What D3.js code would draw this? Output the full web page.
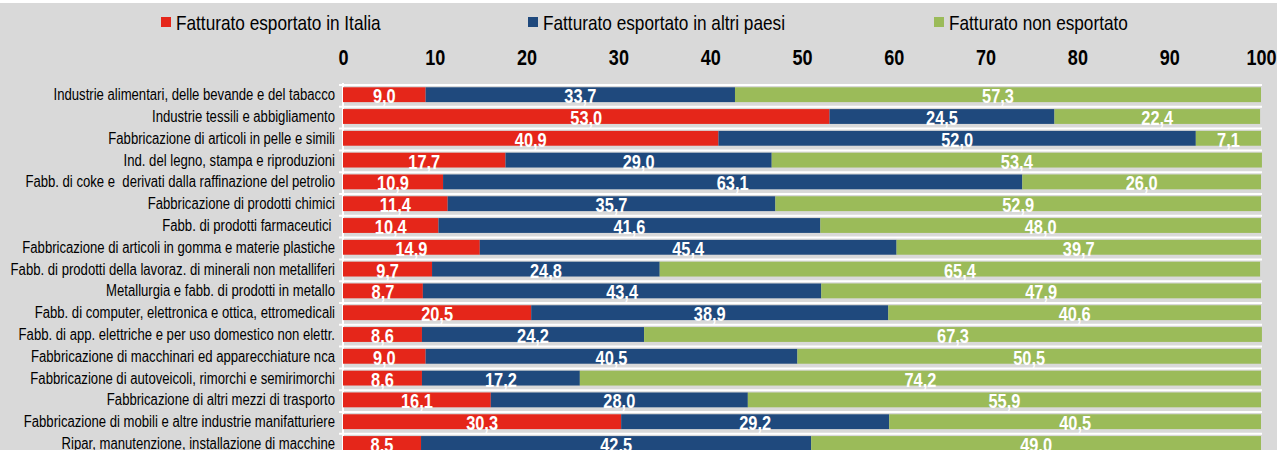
<!DOCTYPE html>
<html>
<head>
<meta charset="utf-8">
<script src="https://cdn.jsdelivr.net/npm/d3@7"></script>
<style>
  html, body { margin: 0; padding: 0; background: #ffffff; overflow: hidden; }
  text { font-family: "Liberation Sans", Arial, sans-serif; white-space: pre; }
</style>
</head>
<body>
<script>
// Chart data
var categories = [
  "Industrie alimentari, delle bevande e del tabacco",
  "Industrie tessili e abbigliamento",
  "Fabbricazione di articoli in pelle e simili",
  "Ind. del legno, stampa e riproduzioni",
  "Fabb. di coke e  derivati dalla raffinazione del petrolio",
  "Fabbricazione di prodotti chimici",
  "Fabb. di prodotti farmaceutici ",
  "Fabbricazione di articoli in gomma e materie plastiche",
  "Fabb. di prodotti della lavoraz. di minerali non metalliferi",
  "Metallurgia e fabb. di prodotti in metallo",
  "Fabb. di computer, elettronica e ottica, ettromedicali",
  "Fabb. di app. elettriche e per uso domestico non elettr.",
  "Fabbricazione di macchinari ed apparecchiature nca",
  "Fabbricazione di autoveicoli, rimorchi e semirimorchi",
  "Fabbricazione di altri mezzi di trasporto",
  "Fabbricazione di mobili e altre industrie manifatturiere",
  "Ripar, manutenzione, installazione di macchine"
];
var italia       = [9.0, 53.0, 40.9, 17.7, 10.9, 11.4, 10.4, 14.9, 9.7, 8.7, 20.5, 8.6, 9.0, 8.6, 16.1, 30.3, 8.5];
var altriPaesi   = [33.7, 24.5, 52.0, 29.0, 63.1, 35.7, 41.6, 45.4, 24.8, 43.4, 38.9, 24.2, 40.5, 17.2, 28.0, 29.2, 42.5];
var nonEsportato = [57.3, 22.4, 7.1, 53.4, 26.0, 52.9, 48.0, 39.7, 65.4, 47.9, 40.6, 67.3, 50.5, 74.2, 55.9, 40.5, 49.0];
var seriesNames  = ["Fatturato esportato in Italia", "Fatturato esportato in altri paesi", "Fatturato non esportato"];
var seriesKeys   = ["italia", "altri", "non"];
var tickValues   = [0, 10, 20, 30, 40, 50, 60, 70, 80, 90, 100];

// Define SVG area dimensions
var svgWidth = 1277;
var svgHeight = 450;

// no narrow font installed: squeeze Liberation Sans horizontally
var squeeze = 0.82;
function narrow(sel) {
  sel.each(function () {
    var t = d3.select(this);
    var x = +t.attr("x") || 0;
    var y = +t.attr("y") || 0;
    t.attr("x", 0).attr("y", 0)
      .attr("transform", `translate(${x}, ${y}) scale(${squeeze}, 1)`);
  });
}

var colors = d3.scaleOrdinal()
  .domain(seriesKeys)
  .range(["#e5261a", "#1f497d", "#9bbb59"]);

// rows as objects for d3.stack
var rows = categories.map(function (c, i) {
  return { cat: c, italia: italia[i], altri: altriPaesi[i], non: nonEsportato[i] };
});
var stacked = d3.stack().keys(seriesKeys)(rows);

var svg = d3.select("body")
  .append("svg")
  .attr("width", svgWidth)
  .attr("height", svgHeight);

// gray background with thin white strip on top
svg.append("rect")
  .attr("x", 0).attr("y", 0)
  .attr("width", svgWidth).attr("height", svgHeight)
  .attr("fill", "#ffffff");
svg.append("rect")
  .attr("x", 0).attr("y", 3)
  .attr("width", svgWidth).attr("height", svgHeight - 3)
  .attr("fill", "#d9d9d9");

// scales
var xScale = d3.scaleLinear()
  .domain([0, 100])
  .range([343, 1261]);

var rowStep = 21.8;
var yRow = d3.scaleBand()
  .domain(categories)
  .range([85, 85 + rowStep * categories.length]);

var barOffset = yRow.bandwidth() * 0.105;
var barHeight = yRow.bandwidth() * 0.68;

// gridlines at row boundaries
svg.append("g")
  .selectAll("line")
  .data(categories)
  .enter()
  .append("line")
  .attr("x1", xScale(0) - 4)
  .attr("x2", xScale(100) + 1)
  .attr("y1", d => yRow(d))
  .attr("y2", d => yRow(d))
  .attr("stroke", "#ffffff")
  .attr("stroke-width", 2);

// vertical axis line
svg.append("line")
  .attr("x1", xScale(0)).attr("x2", xScale(0))
  .attr("y1", yRow.range()[0] - 2).attr("y2", svgHeight)
  .attr("stroke", "#ffffff")
  .attr("stroke-width", 2);

// bars
var layers = svg.append("g")
  .selectAll("g")
  .data(stacked)
  .enter()
  .append("g")
  .attr("fill", d => colors(d.key));

layers.selectAll("rect")
  .data(d => d)
  .enter()
  .append("rect")
  .attr("x", d => xScale(d[0]))
  .attr("width", d => xScale(d[1]) - xScale(d[0]))
  .attr("y", d => yRow(d.data.cat) + barOffset)
  .attr("height", barHeight);

// value labels
var fmt = function (v) { return d3.format(".1f")(v).replace(".", ","); };

layers.selectAll("text")
  .data(d => d)
  .enter()
  .append("text")
  .attr("x", d => (xScale(d[0]) + xScale(d[1])) / 2)
  .attr("y", d => yRow(d.data.cat) + barOffset + barHeight + 1)
  .attr("text-anchor", "middle")
  .attr("font-size", "20px")
  .attr("font-weight", "bold")
  .attr("fill", "#ffffff")
  .text(d => fmt(d[1] - d[0]))
  .call(narrow);

// category labels
svg.append("g")
  .selectAll("text")
  .data(categories)
  .enter()
  .append("text")
  .attr("x", xScale(0) - 8)
  .attr("y", d => yRow(d) + barOffset + barHeight / 2 + 5.5)
  .attr("text-anchor", "end")
  .attr("font-size", "16px")
  .attr("fill", "#000000")
  .text(d => d)
  .call(narrow);

// top axis
var topAxis = d3.axisTop(xScale)
  .tickValues(tickValues)
  .tickSize(0)
  .tickPadding(0);

var axisG = svg.append("g")
  .attr("transform", "translate(0, 65)")
  .call(topAxis);
axisG.select(".domain").remove();
axisG.selectAll("text")
  .attr("font-family", null)
  .attr("font-size", "22px")
  .attr("font-weight", "bold")
  .attr("fill", "#000000")
  .attr("transform", `scale(${squeeze}, 1)`);

// legend
var legendX = [161, 528, 934];
var legend = svg.append("g")
  .selectAll("g")
  .data(seriesKeys)
  .enter()
  .append("g")
  .attr("transform", (d, i) => `translate(${legendX[i]}, 22)`);

legend.append("rect")
  .attr("x", 0).attr("y", -5)
  .attr("width", 10).attr("height", 10)
  .attr("fill", d => colors(d));

legend.append("text")
  .attr("x", 15)
  .attr("y", 7.5)
  .attr("font-size", "21px")
  .attr("fill", "#000000")
  .text((d, i) => seriesNames[i])
  .call(narrow);
</script>
</body>
</html>
